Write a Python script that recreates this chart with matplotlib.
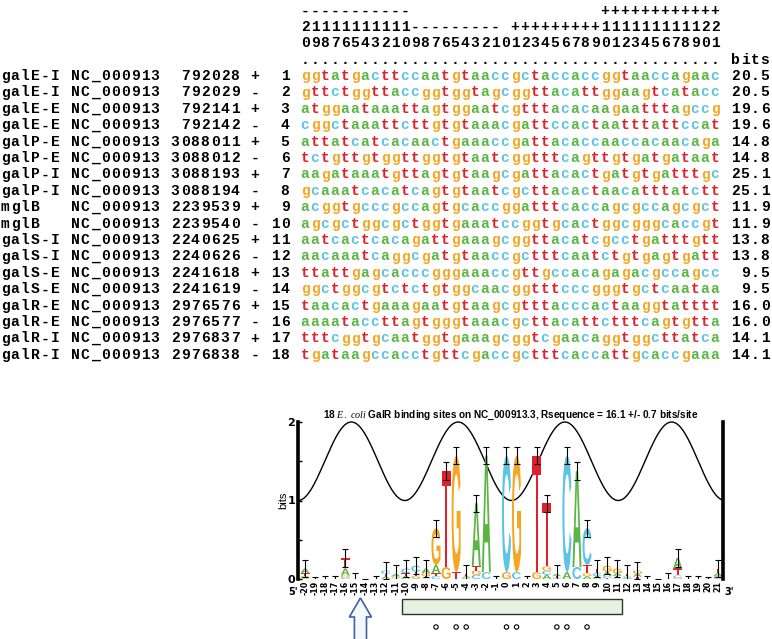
import numpy as np
import matplotlib.pyplot as plt
from matplotlib.textpath import TextPath
from matplotlib.font_manager import FontProperties
from matplotlib.patches import PathPatch, Rectangle, Polygon
from matplotlib.transforms import Affine2D

plt.rcParams["mathtext.fontset"] = "custom"
plt.rcParams["mathtext.it"] = "Liberation Serif:italic"

# ---- data -------------------------------------------------------------
site_names = ["galE-I", "galE-I", "galE-E", "galE-E", "galP-E", "galP-E",
              "galP-I", "galP-I", "mglB", "mglB", "galS-I", "galS-I",
              "galS-E", "galS-E", "galR-E", "galR-E", "galR-I", "galR-I"]
accession = "NC_000913"
coords = [792028, 792029, 792141, 792142, 3088011, 3088012, 3088193, 3088194,
          2239539, 2239540, 2240625, 2240626, 2241618, 2241619, 2976576,
          2976577, 2976837, 2976838]
strands = ["+", "-", "+", "-", "+", "-", "+", "-", "+",
           "-", "+", "-", "+", "-", "+", "-", "+", "-"]
site_nums = [1, 2, 3, 4, 5, 6, 7, 8, 9, 10, 11, 12, 13, 14, 15, 16, 17, 18]
sequences = [
    "ggtatgacttccaatgtaaccgctaccaccggtaaccagaac",
    "gttctggttaccggtggtagcggttacattggaagtcatacc",
    "atggaataaattagtggaatcgtttacacaagaatttagccg",
    "cggctaaattcttgtgtaaacgattccactaatttattccat",
    "attatcatcacaactgaaaccgattacaccaaccacaacaga",
    "tctgttgtggttggtgtaatcggtttcagttgtgatgataat",
    "aagataaatgttagtgtaagcgattacactgatgtgatttgc",
    "gcaaatcacatcagtgtaatcgcttacactaacatttatctt",
    "acggtgcccgccagtgcaccggatttcaccagcgccagcgct",
    "agcgctggcgctggtgaaatccggtgcactggcgggcaccgt",
    "aatcactcacagattgaaagcggttacatcgcctgatttgtt",
    "aacaaatcaggcgatgtaaccgctttcaatctgtgagtgatt",
    "ttattgagcacccgggaaaccgttgccacagagacgccagcc",
    "ggctggcgtctctgtggcaacggtttcccgggtgctcaataa",
    "taacactgaaagaatgtaagcgtttacccactaaggtatttt",
    "aaaataccttagtgggtaaacgcttacattctttcagtgtta",
    "tttcggtgcaatggtgaaagcggtcgaacaggtggcttatca",
    "tgataagccacctgttcgaccgctttcaccattgcaccgaaa",
]
site_bits = [20.5, 20.5, 19.6, 19.6, 14.8, 14.8, 25.1, 25.1, 11.9, 11.9,
             13.8, 13.8, 9.5, 9.5, 16.0, 16.0, 14.1, 14.1]
header_lines = [
    "-----------                   ++++++++++++",
    "21111111111--------- +++++++++111111111122",
    "098765432109876543210123456789012345678901",
    ".......................................... bits",
]
positions = list(range(-20, 22))
small_sample_e = 0.12      # e(n) for 18 sites
err_bits = 0.11            # error bar half height
wave_peak, wave_period = 5.8, 10.6
box_span = (-10.4, 11.5)
circle_pos = [-7, -5, -4, 0, 1, 5, 6, 8]
arrow_pos = -14.5

base_colors = {"a": "#5db546", "c": "#5cc4e4", "g": "#f5a623", "t": "#e2202b"}

# ---- layout (pixels) --------------------------------------------------
W, H = 772, 639
CHAR_W = 10.0
LINE_Y0, LINE_DY = 10.0, 16.4
SEQ_COL = 30

fig = plt.figure(figsize=(W / 100, H / 100), dpi=100)
bg = fig.add_axes([0, 0, 1, 1])
bg.set_xlim(0, W); bg.set_ylim(H, 0); bg.axis("off")

mono = dict(family="Liberation Mono", fontweight="bold", fontsize=10.5)


def put_line(y, text, colors=None, col0=0):
    for k, ch in enumerate(text):
        if ch == " ":
            continue
        c = colors.get(ch, "black") if colors else "black"
        bg.text((col0 + k) * CHAR_W + CHAR_W / 2, y + 4.5, ch, ha="center",
                va="baseline", color=c, **mono)


for i, line in enumerate(header_lines):
    put_line(LINE_Y0 + i * LINE_DY, line, col0=SEQ_COL)

for r in range(len(sequences)):
    y = LINE_Y0 + (len(header_lines) + r) * LINE_DY
    label = f"{site_names[r]:<7}{accession} {coords[r]:>7} {strands[r]} {site_nums[r]:>2} "
    put_line(y, label)
    put_line(y, sequences[r], colors=base_colors, col0=SEQ_COL)
    put_line(y, f"{site_bits[r]:4.1f}", col0=SEQ_COL + len(sequences[r]) + 1)

# ---- sequence logo ----------------------------------------------------
ax = fig.add_axes([298 / W, (H - 579) / H, (723 - 298) / W, (579 - 422) / H])
ax.set_xlim(-20.7, 21.5)
ax.set_ylim(0, 2)
ax.patch.set_alpha(0)
for s in ["top", "bottom"]:
    ax.spines[s].set_visible(False)
for s in ["left", "right"]:
    ax.spines[s].set_linewidth(2.6)

fp = FontProperties(family="Liberation Sans", weight="bold")
seq_arr = np.array([list(s) for s in sequences])
R_vals = []
for i, p in enumerate(positions):
    col = seq_arr[:, i]
    freqs = {b: np.mean(col == b) for b in "acgt"}
    Hs = -sum(f * np.log2(f) for f in freqs.values() if f > 0)
    R = 2 - (Hs + small_sample_e)
    R_vals.append(R)
    if R <= 0:
        continue
    y0 = 0.0
    for b, f in sorted(freqs.items(), key=lambda kv: kv[1]):
        h = f * R
        if h <= 0:
            continue
        tp = TextPath((0, 0), b.upper(), size=1, prop=fp)
        ext = tp.get_extents()
        w = 0.9
        tr = (Affine2D().translate(-ext.x0, -ext.y0)
              .scale(w / ext.width, h / ext.height)
              .translate(p - w / 2, y0))
        ax.add_patch(PathPatch(tr.transform_path(tp), fc=base_colors[b],
                               ec="none", zorder=2))
        y0 += h

ax.errorbar(positions, R_vals, yerr=err_bits, fmt="none", ecolor="black",
            elinewidth=0.8, capsize=2.2, capthick=0.8, zorder=3)

xw = np.linspace(-20.7, 21.5, 600)
ax.plot(xw, 1.5 + 0.5 * np.cos(2 * np.pi * (xw - wave_peak) / wave_period),
        color="black", lw=1.0, clip_on=False, zorder=1)

ax.set_yticks([0, 1, 2])
ax.set_yticks([0.5, 1.5], minor=True)
ax.tick_params(axis="y", which="both", direction="in", length=3, width=1,
               labelsize=8, pad=2)
for t in ax.get_yticklabels():
    t.set_fontweight("bold")
ax.tick_params(axis="y", which="both", right=False)
ax.set_xticks(positions)
ax.set_xticklabels([str(p) for p in positions], rotation=90,
                   fontsize=5.8, fontweight="bold")
ax.tick_params(axis="x", length=0, pad=1.5)

ax.set_title(r"18 $\mathit{E.\ coli}$ GalR binding sites on NC_000913.3, "
             r"Rsequence = 16.1 +/- 0.7 bits/site",
             fontsize=7.2, fontweight="bold", family="Liberation Sans", pad=3)
bg.text(283, 500, "bits", rotation=90, ha="center", va="center",
        fontsize=8, family="Liberation Sans")
bg.text(293, 592, "5'", ha="center", va="center", fontsize=7, fontweight="bold")
bg.text(729, 592, "3'", ha="center", va="center", fontsize=7, fontweight="bold")

# ---- annotations under the logo --------------------------------------
ann = fig.add_axes([298 / W, 0, (723 - 298) / W, (H - 585) / H])
ann.set_xlim(-20.7, 21.5)
ann.set_ylim(H, 585)
ann.axis("off")
ann.add_patch(Rectangle((box_span[0], 599), box_span[1] - box_span[0], 15,
                        fc="#e6f2df", ec="#333333", lw=1))
ann.scatter(circle_pos, [627] * len(circle_pos), s=10, facecolors="none",
            edgecolors="black", linewidths=0.8)
a = arrow_pos
ann.add_patch(Polygon([(a - 0.6, H + 2), (a - 0.6, 617), (a - 1.1, 617), (a, 598),
                       (a + 1.1, 617), (a + 0.6, 617), (a + 0.6, H + 2)],
                      closed=True, fc="#f4f7fb", ec="#3f63a0", lw=1.2,
                      clip_on=False))

plt.savefig("out.png", dpi=100)
plt.close()
